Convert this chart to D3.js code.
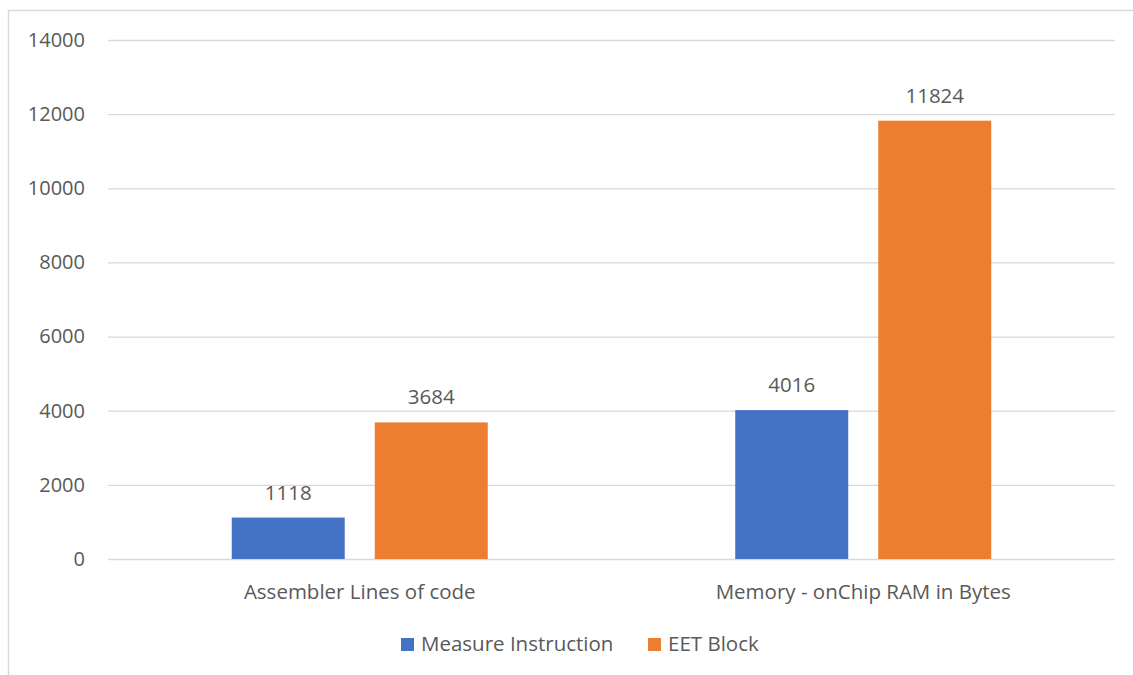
<!DOCTYPE html>
<html>
<head>
<meta charset="utf-8">
<script src="https://cdn.jsdelivr.net/npm/d3@7"></script>
<style>
  html, body { margin: 0; padding: 0; background: #fff; }
  svg text { font-family: 'Open Sans', 'Noto Sans', sans-serif; fill: #595959; }
</style>
</head>
<body>
<div id="chart"></div>
<script>
const categories = ['Assembler Lines of code', 'Memory - onChip RAM in Bytes']
const seriesNames = ['Measure Instruction', 'EET Block']
const measureInstruction = [1118, 4016]
const eetBlock = [3684, 11824]
const yTicks = [0, 2000, 4000, 6000, 8000, 10000, 12000, 14000]
const colors = ['#4472C4', '#ED7D31']

const width = 1133
const height = 675
const plot = { left: 108, right: 1115, top: 40, bottom: 559 }
const fontSize = 20.5

const svg = d3.select('#chart')
  .append('svg')
  .attr('width', width)
  .attr('height', height)

// chart border (runs off the right and bottom edge)
svg.append('path')
  .attr('d', `M8.5,${height + 2} V10.5 H${width + 2}`)
  .attr('fill', 'none')
  .attr('stroke', '#d9d9d9')
  .attr('stroke-width', 1.5)

const y = d3.scaleLinear().domain([0, 14000]).range([plot.bottom, plot.top])
const x0 = d3.scaleBand().domain(categories).range([plot.left, plot.right])
const groupWidth = x0.bandwidth() * 256 / 503.5
const x1 = d3.scaleBand().domain(seriesNames).range([0, groupWidth]).paddingInner(0.21)

// gridlines + y labels
const yAxis = svg.append('g')
  .attr('transform', `translate(${plot.left},0)`)
  .call(d3.axisLeft(y).tickValues(yTicks).tickSize(-(plot.right - plot.left)).tickPadding(23).tickFormat(d3.format('d')))
yAxis.select('.domain').remove()
yAxis.selectAll('.tick line').attr('stroke', '#d9d9d9').attr('stroke-width', 1.3)
yAxis.selectAll('.tick text').attr('font-size', 20).style('fill', '#595959')

const rows = seriesNames.map((name, i) => ({
  name, color: colors[i],
  values: i === 0 ? measureInstruction : eetBlock
}))

const groups = svg.append('g').selectAll('g')
  .data(categories)
  .join('g')
  .attr('transform', d => `translate(${x0(d) + (x0.bandwidth() - groupWidth) / 2},0)`)

groups.selectAll('rect')
  .data((c, ci) => rows.map(r => ({ name: r.name, color: r.color, value: r.values[ci] })))
  .join('rect')
  .attr('x', d => x1(d.name))
  .attr('y', d => y(d.value))
  .attr('width', x1.bandwidth())
  .attr('height', d => y(0) - y(d.value))
  .attr('fill', d => d.color)

groups.selectAll('text')
  .data((c, ci) => rows.map(r => ({ name: r.name, value: r.values[ci] })))
  .join('text')
  .attr('x', d => x1(d.name) + x1.bandwidth() / 2)
  .attr('y', d => y(d.value) - 18)
  .attr('text-anchor', 'middle')
  .attr('font-size', fontSize)
  .text(d => d.value)

// category labels
svg.append('g').selectAll('text')
  .data(categories)
  .join('text')
  .attr('x', d => x0(d) + x0.bandwidth() / 2)
  .attr('y', 599)
  .attr('text-anchor', 'middle')
  .attr('font-size', fontSize)
  .text(d => d)

// legend
const legend = svg.append('g')
const legendX = [401, 648]
seriesNames.forEach((name, i) => {
  const g = legend.append('g').attr('transform', `translate(${legendX[i]},638)`)
  g.append('rect').attr('width', 13).attr('height', 13).attr('fill', colors[i])
  g.append('text').attr('x', 20).attr('y', 12.5).attr('font-size', fontSize).text(name)
})
</script>
</body>
</html>
